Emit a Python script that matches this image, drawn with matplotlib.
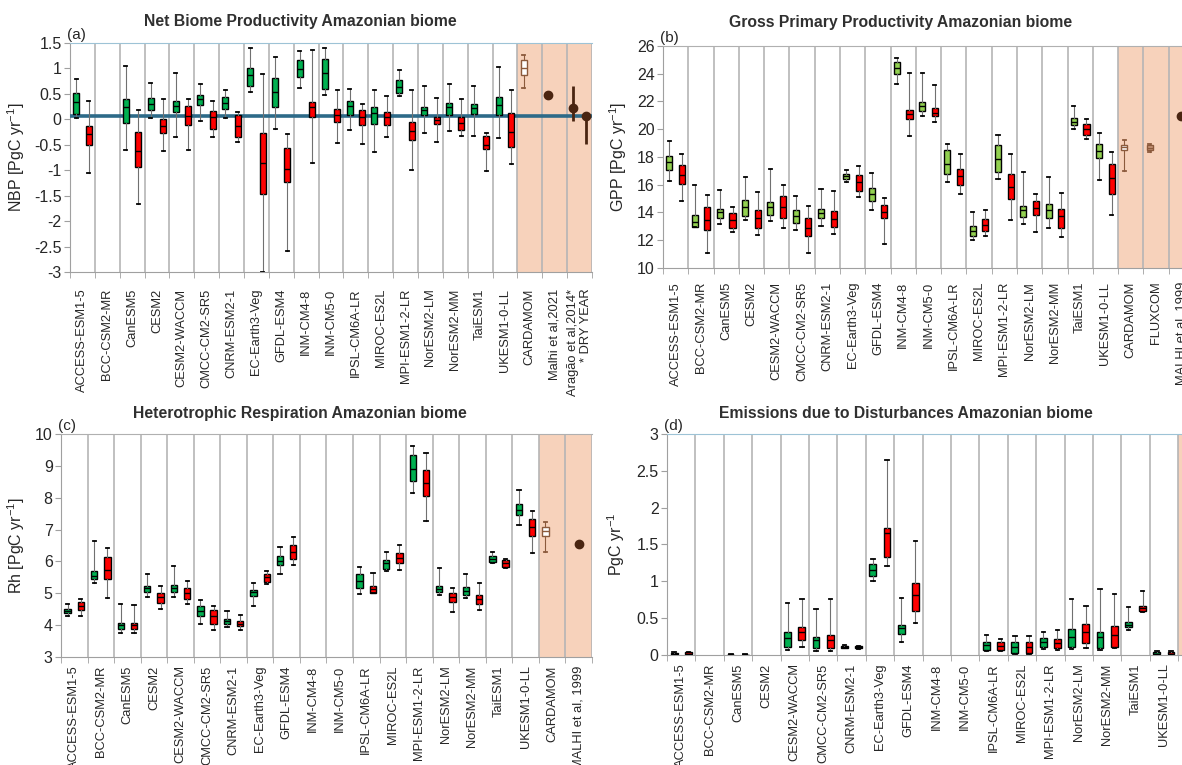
import matplotlib
matplotlib.use('Agg')
import matplotlib.pyplot as plt
from matplotlib.ticker import MultipleLocator, FuncFormatter

plt.rcParams['font.family'] = ['Liberation Sans', 'DejaVu Sans']
plt.rcParams['axes.unicode_minus'] = False
plt.rcParams['mathtext.fontset'] = 'custom'
plt.rcParams['mathtext.rm'] = 'Liberation Sans'
plt.rcParams['mathtext.default'] = 'regular'

models = ['ACCESS-ESM1-5', 'BCC-CSM2-MR', 'CanESM5', 'CESM2', 'CESM2-WACCM',
          'CMCC-CM2-SR5', 'CNRM-ESM2-1', 'EC-Earth3-Veg', 'GFDL-ESM4', 'INM-CM4-8',
          'INM-CM5-0', 'IPSL-CM6A-LR', 'MIROC-ES2L', 'MPI-ESM1-2-LR', 'NorESM2-LM',
          'NorESM2-MM', 'TaiESM1', 'UKESM1-0-LL']

# five-number summaries: (whisker low, q1, median, q3, whisker high); None = no data
# (a) NBP
nbp_green = [(0.02, 0.10, 0.35, 0.51, 0.80), None, (-0.60, -0.08, 0.24, 0.40, 1.05),
             (0.02, 0.19, 0.30, 0.41, 0.71), (-0.35, 0.15, 0.26, 0.36, 0.92),
             (-0.03, 0.28, 0.40, 0.48, 0.70), (0.02, 0.20, 0.32, 0.44, 0.57),
             (0.53, 0.66, 0.88, 1.01, 1.41), (-0.18, 0.25, 0.53, 0.81, 1.22),
             (0.61, 0.83, 0.99, 1.16, 1.34), (0.47, 0.60, 0.91, 1.19, 1.41),
             (-0.21, 0.09, 0.26, 0.36, 0.59), (-0.65, -0.09, 0.12, 0.24, 0.57),
             (0.45, 0.51, 0.63, 0.78, 0.97), (-0.26, 0.09, 0.19, 0.24, 0.65),
             (-0.22, 0.09, 0.24, 0.32, 0.70), (-0.33, 0.10, 0.22, 0.30, 0.66),
             (-0.37, 0.09, 0.28, 0.44, 1.02)]
nbp_red = [(-1.05, -0.50, -0.29, -0.14, 0.37), None, (-1.67, -0.94, -0.62, -0.24, 0.19),
           (-0.62, -0.27, -0.13, 0.00, 0.40), (-0.60, -0.11, 0.07, 0.26, 0.40),
           (-0.34, -0.18, 0.04, 0.17, 0.37), (-0.44, -0.34, -0.13, 0.09, 0.15),
           (-3.00, -1.46, -0.85, -0.27, 0.90), (-2.59, -1.23, -0.98, -0.56, -0.29),
           (-0.85, 0.04, 0.24, 0.35, 1.36), (-0.46, -0.06, 0.09, 0.20, 0.57),
           (-0.48, -0.12, 0.05, 0.19, 0.30), (-0.34, -0.12, 0.05, 0.15, 0.45),
           (-1.00, -0.41, -0.23, -0.06, 0.57), (-0.44, -0.09, -0.01, 0.05, 0.42),
           (-0.33, -0.21, -0.08, 0.04, 0.40), (-1.02, -0.59, -0.50, -0.32, -0.26),
           (-0.88, -0.54, -0.24, 0.12, 0.58)]
nbp_cardamom = (0.61, 0.88, 1.01, 1.17, 1.27)
nbp_malhi2021 = 0.47
nbp_aragao = (0.22, -0.04, 0.66)      # value, low, high
nbp_dry_year = (0.07, -0.48, 0.07)
nbp_ref = 0.07
nbp_labels = models + ['CARDAMOM', 'Malhi et al,2021', 'Aragão et al,2014*\n* DRY YEAR']

# (b) GPP
gpp_green = [(16.24, 17.08, 17.63, 18.09, 19.12), (12.93, 12.93, 13.30, 13.79, 15.95),
             (13.19, 13.60, 14.03, 14.25, 15.64), (13.43, 13.77, 14.39, 14.87, 16.53),
             (13.36, 13.79, 14.39, 14.73, 17.15), (12.76, 13.24, 13.77, 14.15, 15.16),
             (13.05, 13.60, 13.96, 14.25, 15.69), (16.17, 16.43, 16.60, 16.77, 17.03),
             (14.15, 14.85, 15.33, 15.76, 16.84), (23.27, 23.99, 24.44, 24.87, 25.16),
             (20.92, 21.28, 21.64, 21.95, 24.03), (16.17, 16.79, 17.49, 18.47, 18.95),
             (12.04, 12.33, 12.69, 13.05, 14.01), (16.43, 16.89, 17.85, 18.88, 19.60),
             (13.17, 13.65, 14.15, 14.49, 16.89), (12.88, 13.60, 14.15, 14.61, 16.53),
             (20.00, 20.27, 20.51, 20.80, 21.64), (16.36, 17.92, 18.45, 18.93, 19.72)]
gpp_red = [(14.80, 16.07, 16.72, 17.44, 18.23), (11.08, 12.76, 13.48, 14.39, 15.28),
           (12.57, 12.88, 13.48, 13.96, 14.39), (12.40, 12.88, 13.60, 14.20, 15.47),
           (12.88, 13.60, 14.39, 15.21, 15.95), (11.08, 12.28, 12.88, 13.60, 14.44),
           (12.47, 12.93, 13.55, 14.13, 15.52), (15.11, 15.52, 16.17, 16.67, 17.37),
           (11.73, 13.60, 14.03, 14.51, 15.04), (19.53, 20.72, 21.08, 21.40, 24.08),
           (20.51, 20.92, 21.20, 21.52, 23.19), (15.35, 16.00, 16.60, 17.13, 18.23),
           (12.33, 12.69, 13.12, 13.53, 14.20), (13.48, 14.97, 15.83, 16.79, 18.23),
           (12.59, 13.84, 14.32, 14.80, 15.35), (12.23, 12.88, 13.72, 14.25, 15.40),
           (19.29, 19.60, 20.00, 20.39, 20.72), (13.79, 15.35, 16.48, 17.49, 18.35)]
gpp_cardamom = (16.96, 18.47, 18.69, 18.88, 19.24)
gpp_fluxcom = (18.35, 18.47, 18.64, 18.83, 18.95)
gpp_malhi1999 = 20.96
gpp_labels = models + ['CARDAMOM', 'FLUXCOM', 'MALHI et al, 1999']

# (c) Rh
rh_green = [(4.29, 4.37, 4.45, 4.52, 4.66), (5.33, 5.44, 5.54, 5.71, 6.64),
            (3.76, 3.89, 4.00, 4.07, 4.66), (4.87, 5.05, 5.15, 5.23, 5.62),
            (4.89, 5.03, 5.15, 5.26, 5.87), (4.02, 4.28, 4.45, 4.60, 4.78),
            (3.95, 4.03, 4.12, 4.18, 4.44), (4.60, 4.91, 5.03, 5.10, 5.31),
            (5.60, 5.89, 6.01, 6.18, 6.46), None, None,
            (4.97, 5.15, 5.38, 5.59, 5.83), (5.70, 5.76, 5.94, 6.04, 6.31),
            (8.16, 8.51, 8.90, 9.33, 9.61), (4.94, 5.03, 5.13, 5.24, 5.80),
            (4.84, 4.96, 5.08, 5.20, 5.62), (5.96, 5.99, 6.08, 6.17, 6.31),
            (7.15, 7.46, 7.62, 7.81, 8.25)]
rh_red = [(4.28, 4.47, 4.60, 4.73, 4.81), (4.84, 5.44, 5.73, 6.13, 6.43),
          (3.76, 3.89, 4.00, 4.07, 4.63), (4.50, 4.71, 4.87, 5.00, 5.24),
          (4.65, 4.81, 5.00, 5.18, 5.38), (3.86, 4.05, 4.28, 4.49, 4.60),
          (3.86, 3.97, 4.05, 4.13, 4.33), (5.29, 5.34, 5.50, 5.62, 5.71),
          (5.89, 6.08, 6.29, 6.50, 6.78), None, None,
          (5.00, 5.00, 5.12, 5.23, 5.65), (5.73, 5.96, 6.12, 6.26, 6.52),
          (7.27, 8.04, 8.46, 8.88, 9.40), (4.42, 4.73, 4.87, 5.00, 5.18),
          (4.47, 4.65, 4.81, 4.96, 5.33), (5.78, 5.83, 5.94, 6.04, 6.07),
          (6.27, 6.80, 7.09, 7.32, 7.59)]
rh_cardamom = (6.31, 6.80, 6.96, 7.09, 7.25)
rh_malhi1999 = 6.55
rh_labels = models + ['CARDAMOM', 'MALHI et al, 1999']

# (d) emissions due to disturbances
dist_green = [(0.005, 0.01, 0.02, 0.03, 0.04), None, (0.0, 0.002, 0.004, 0.006, 0.008), None,
              (0.07, 0.11, 0.23, 0.31, 0.70), (0.05, 0.09, 0.20, 0.25, 0.63),
              (0.09, 0.10, 0.11, 0.12, 0.13), (1.00, 1.07, 1.15, 1.24, 1.30),
              (0.18, 0.29, 0.36, 0.41, 0.78), None, None,
              (0.05, 0.07, 0.13, 0.18, 0.27), (0.02, 0.03, 0.11, 0.17, 0.26),
              (0.08, 0.11, 0.18, 0.23, 0.31), (0.08, 0.11, 0.25, 0.35, 0.76),
              (0.07, 0.10, 0.25, 0.31, 0.89), (0.34, 0.38, 0.41, 0.45, 0.65),
              (0.005, 0.01, 0.02, 0.035, 0.05)]
dist_red = [(0.005, 0.01, 0.02, 0.035, 0.045), None, (0.0, 0.002, 0.004, 0.006, 0.008), None,
            (0.11, 0.21, 0.31, 0.38, 0.76), (0.05, 0.10, 0.20, 0.27, 0.76),
            (0.08, 0.09, 0.105, 0.12, 0.125), (1.21, 1.33, 1.65, 1.73, 2.65),
            (0.44, 0.60, 0.82, 0.98, 1.55), None, None,
            (0.05, 0.07, 0.12, 0.17, 0.22), (0.02, 0.03, 0.11, 0.18, 0.26),
            (0.07, 0.09, 0.16, 0.22, 0.34), (0.10, 0.16, 0.31, 0.42, 0.66),
            (0.09, 0.11, 0.27, 0.40, 0.83), (0.58, 0.60, 0.64, 0.67, 0.87),
            (0.005, 0.01, 0.02, 0.035, 0.05)]
dist_labels = models + ['CARDAMOM', 'MALHI et al, 1999']

GREEN = '#00b050'
GREEN_LIGHT = '#92d050'
RED = '#ff0000'
OBS_FILL = '#f7d2bb'
OBS_EDGE = '#8b5a3c'
DOT = '#4a2511'
GRID = '#b5b5b5'
TEXT = '#262626'
OFF = 0.25


def stat(v):
    lo, q1, med, q3, hi = v
    return dict(whislo=lo, q1=q1, med=med, q3=q3, whishi=hi, fliers=[])


def draw_boxes(ax, stats, positions, face, edge='black', whisker='#707070'):
    ax.bxp(stats, positions=positions, widths=0.24, patch_artist=True,
           showfliers=False, manage_ticks=False, zorder=4,
           boxprops=dict(facecolor=face, edgecolor=edge, linewidth=1.0),
           medianprops=dict(color=edge, linewidth=1.0),
           whiskerprops=dict(color=whisker, linewidth=0.8),
           capprops=dict(color=edge, linewidth=1.3))


def model_boxes(ax, data, offset, face):
    st = [stat(v) for v in data if v is not None]
    pos = [i + offset for i, v in enumerate(data) if v is not None]
    draw_boxes(ax, st, pos, face)


def setup(ax, labels, ylim, ystep, ylabel, ylabel_x, panel, top_color, xpad):
    n = len(labels)
    ax.set_xlim(-0.5, n - 0.5)
    ax.set_ylim(*ylim)
    ax.axvspan(len(models) - 0.5, n - 0.5, color=OBS_FILL, lw=0, zorder=0)
    for b in range(1, n + 1):
        ax.axvline(b - 0.5, color=GRID, lw=1.2, zorder=1)
    ax.set_xticks(range(n))
    ax.set_xticklabels(labels, rotation=90, fontsize=9.3, color=TEXT,
                       multialignment='right')
    ax.set_xticks([b - 0.5 for b in range(n + 1)], minor=True)
    ax.tick_params(axis='x', which='major', length=0, pad=xpad)
    ax.tick_params(axis='x', which='minor', length=4, color='#a0a0a0')
    ax.yaxis.set_major_locator(MultipleLocator(ystep))
    ax.yaxis.set_major_formatter(FuncFormatter(lambda v, _: f'{round(v, 2) + 0:g}'))
    ax.tick_params(axis='y', length=4, color='#a0a0a0', labelsize=11.5,
                   labelcolor=TEXT, pad=2)
    for s in ('left', 'bottom'):
        ax.spines[s].set_color('#a0a0a0')
    ax.spines['right'].set_visible(False)
    ax.spines['top'].set_color(top_color)
    ax.set_ylabel(ylabel, fontsize=11.5, color=TEXT)
    ax.yaxis.set_label_coords(ylabel_x, 0.5)
    ax.text(-0.005, 1.004, panel, transform=ax.transAxes, ha='left', va='bottom',
            fontsize=11, color=TEXT)


fig = plt.figure(figsize=(11.82, 7.65), dpi=100)

# (a) Net Biome Productivity
ax = fig.add_axes([0.0592, 0.6444, 0.4416, 0.2994])
setup(ax, nbp_labels, (-3, 1.5), 0.5, 'NBP [PgC yr$^{-1}$]', -0.082, '(a)', '#9dc3d6', 12)
ax.axhline(nbp_ref, color='#2d6a88', lw=2.6, zorder=3)
model_boxes(ax, nbp_green, -OFF, GREEN)
model_boxes(ax, nbp_red, OFF, RED)
draw_boxes(ax, [stat(nbp_cardamom)], [18 - OFF], 'white', edge=OBS_EDGE, whisker=OBS_EDGE)
ax.plot([19 - OFF], [nbp_malhi2021], 'o', color=DOT, ms=6, zorder=5)
for x, (v, lo, hi) in ((20 - OFF, nbp_aragao), (20 + OFF, nbp_dry_year)):
    ax.errorbar([x], [v], yerr=[[v - lo], [hi - v]], fmt='o', color=DOT, ms=6,
                elinewidth=2, capsize=0, zorder=5)

# (b) Gross Primary Productivity
ax = fig.add_axes([0.5609, 0.6497, 0.4492, 0.2902])
setup(ax, gpp_labels, (10, 26), 2, 'GPP [PgC yr$^{-1}$]', -0.064, '(b)', '#b0b0b0', 10)
model_boxes(ax, gpp_green, -OFF, GREEN_LIGHT)
model_boxes(ax, gpp_red, OFF, RED)
draw_boxes(ax, [stat(gpp_cardamom)], [18 - OFF], 'white', edge=OBS_EDGE, whisker=OBS_EDGE)
draw_boxes(ax, [stat(gpp_fluxcom)], [19 - OFF], '#c8967a', edge=OBS_EDGE, whisker=OBS_EDGE)
ax.plot([20], [gpp_malhi1999], 'o', color=DOT, ms=6, zorder=5, clip_on=False)

# (c) Heterotrophic Respiration
ax = fig.add_axes([0.0516, 0.1412, 0.4492, 0.2915])
setup(ax, rh_labels, (3, 10), 1, 'Rh [PgC yr$^{-1}$]', -0.064, '(c)', '#b0b0b0', 6)
model_boxes(ax, rh_green, -OFF, GREEN)
model_boxes(ax, rh_red, OFF, RED)
draw_boxes(ax, [stat(rh_cardamom)], [18 - OFF], 'white', edge=OBS_EDGE, whisker=OBS_EDGE)
ax.plot([19], [rh_malhi1999], 'o', color=DOT, ms=6, zorder=5)

# (d) Emissions due to Disturbances
ax = fig.add_axes([0.5643, 0.1438, 0.4805, 0.2889])
setup(ax, dist_labels, (0, 3), 0.5, 'PgC yr$^{-1}$', -0.070, '(d)', '#9dc3d6', 6)
model_boxes(ax, dist_green, -OFF, GREEN)
model_boxes(ax, dist_red, OFF, RED)

titles = [(0.254, 0.972, 'Net Biome Productivity Amazonian biome'),
          (0.762, 0.970, 'Gross Primary Productivity Amazonian biome'),
          (0.254, 0.460, 'Heterotrophic Respiration Amazonian biome'),
          (0.766, 0.460, 'Emissions due to Disturbances Amazonian biome')]
for x, y, t in titles:
    fig.text(x, y, t, ha='center', va='center', fontsize=11.3, fontweight='bold',
             color='#303030')

fig.savefig('out.png', dpi=100)
